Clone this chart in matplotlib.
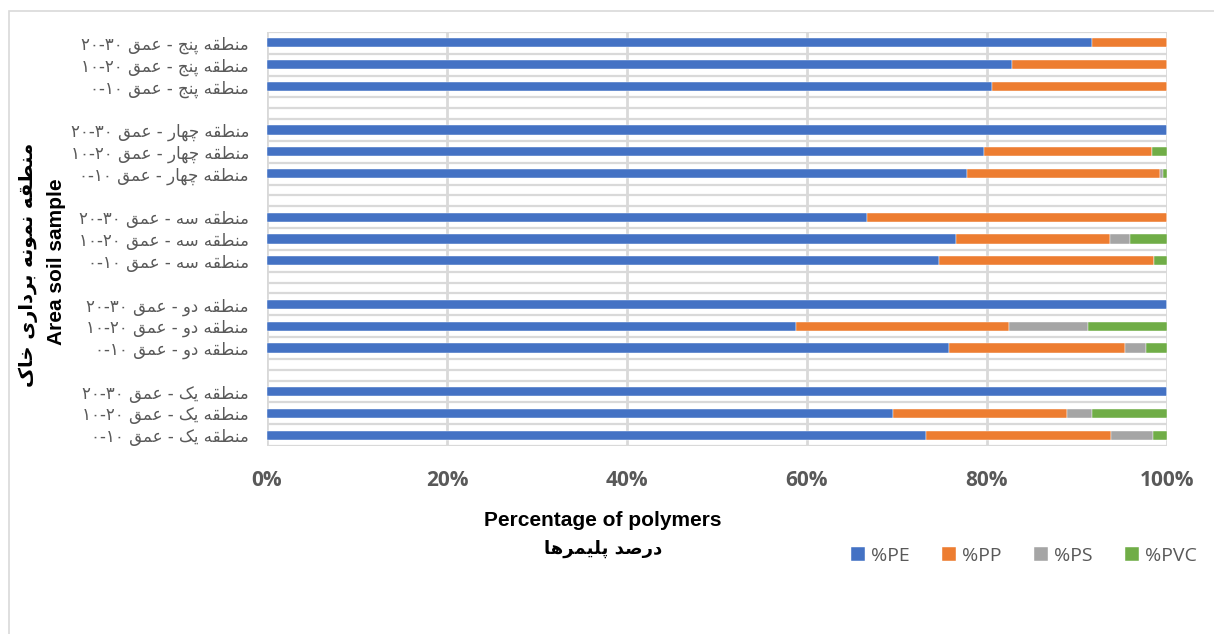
import re

import numpy as np
import matplotlib
matplotlib.use("Agg")
import matplotlib.pyplot as plt
from matplotlib.patches import Rectangle
from matplotlib.ticker import PercentFormatter

# ---- data (bottom row first) ----
zones = ["یک", "دو", "سه", "چهار", "پنج"]
depths = ["۰-۱۰", "۱۰-۲۰", "۲۰-۳۰"]
polymers = ["%PE", "%PP", "%PS", "%PVC"]

pe = [73.2, 69.5, 100, 75.8, 58.8, 100, 74.7, 76.6, 66.7, 77.8, 79.7, 100, 80.5, 82.8, 91.7]
pp = [20.6, 19.4, 0, 19.5, 23.6, 0, 23.9, 17.1, 33.3, 21.4, 18.6, 0, 19.5, 17.2, 8.3]
ps = [4.6, 2.8, 0, 2.4, 8.8, 0, 0, 2.2, 0, 0.3, 0, 0, 0, 0, 0]
pvc = [1.6, 8.3, 0, 2.3, 8.8, 0, 1.4, 4.1, 0, 0.5, 1.7, 0, 0, 0, 0]

colors = ["#4472C4", "#ED7D31", "#A5A5A5", "#70AD47"]
GRID = "#D9D9D9"
TXT = "#595959"

# contextual forms: isolated, final, initial, medial (right-joining letters have two)
FORMS = {
    "\u0627": ("\uFE8D", "\uFE8E"),
    "\u062F": ("\uFEA9", "\uFEAA"),
    "\u0631": ("\uFEAD", "\uFEAE"),
    "\u0648": ("\uFEED", "\uFEEE"),
    "\u0628": ("\uFE8F", "\uFE90", "\uFE91", "\uFE92"),
    "\u067E": ("\uFB56", "\uFB57", "\uFB58", "\uFB59"),
    "\u062C": ("\uFE9D", "\uFE9E", "\uFE9F", "\uFEA0"),
    "\u0686": ("\uFB7A", "\uFB7B", "\uFB7C", "\uFB7D"),
    "\u062E": ("\uFEA5", "\uFEA6", "\uFEA7", "\uFEA8"),
    "\u0633": ("\uFEB1", "\uFEB2", "\uFEB3", "\uFEB4"),
    "\u0635": ("\uFEB9", "\uFEBA", "\uFEBB", "\uFEBC"),
    "\u0637": ("\uFEC1", "\uFEC2", "\uFEC3", "\uFEC4"),
    "\u0639": ("\uFEC9", "\uFECA", "\uFECB", "\uFECC"),
    "\u0642": ("\uFED5", "\uFED6", "\uFED7", "\uFED8"),
    "\u06A9": ("\uFB8E", "\uFB8F", "\uFB90", "\uFB91"),
    "\u0644": ("\uFEDD", "\uFEDE", "\uFEDF", "\uFEE0"),
    "\u0645": ("\uFEE1", "\uFEE2", "\uFEE3", "\uFEE4"),
    "\u0646": ("\uFEE5", "\uFEE6", "\uFEE7", "\uFEE8"),
    "\u0647": ("\uFEE9", "\uFEEA", "\uFEEB", "\uFEEC"),
    "\u06CC": ("\uFBFC", "\uFBFD", "\uFBFE", "\uFBFF"),
}
DIGITS = r"[0-9\u06F0-\u06F9][0-9\u06F0-\u06F9\-]*[0-9\u06F0-\u06F9]|[0-9\u06F0-\u06F9]"


def shape_fa(text: str) -> str:
    out = []
    for i, ch in enumerate(text):
        forms = FORMS.get(ch)
        if forms is None:
            out.append(ch)
            continue
        prev = text[i - 1] if i > 0 else ""
        nxt = text[i + 1] if i + 1 < len(text) else ""
        join_prev = prev in FORMS and len(FORMS[prev]) == 4
        join_next = len(forms) == 4 and nxt in FORMS
        if join_prev and join_next:
            out.append(forms[3])
        elif join_prev:
            out.append(forms[1])
        elif join_next:
            out.append(forms[2])
        else:
            out.append(forms[0])
    vis = "".join(out)[::-1]
    return re.sub(DIGITS, lambda m: m.group(0)[::-1], vis)


# row layout: 3 depths per zone, one empty row between zones
ypos, labels, blanks = [], [], []
row = 0
for k, z in enumerate(zones):
    for d in depths:
        ypos.append(row)
        labels.append(shape_fa(f"منطقه {z} - عمق {d}"))
        row += 1
    if k < len(zones) - 1:
        blanks.append(row)
        row += 1
n_rows = row

fig = plt.figure(figsize=(12.14, 6.34), dpi=100)
ax = fig.add_axes([267 / 1214, 1 - 446 / 634, 900 / 1214, 414 / 634])

left = np.zeros(len(pe))
for vals, name, c in zip([pe, pp, ps, pvc], polymers, colors):
    vals = np.array(vals, dtype=float)
    ax.barh(ypos, vals, left=left, height=0.42, color=c, label=name,
            edgecolor="white", linewidth=0.3, zorder=3)
    left += vals

ax.set_xlim(0, 100)
ax.set_ylim(-0.5, n_rows - 0.5)
ax.set_xticks(np.arange(0, 101, 20))
ax.xaxis.set_major_formatter(PercentFormatter(xmax=100, decimals=0))
ax.set_yticks(ypos)
ax.set_yticklabels(labels, family=["DejaVu Sans"], fontsize=12, color=TXT)
ax.set_yticks(list(np.arange(-0.5, n_rows, 1.0)) + blanks, minor=True)
ax.tick_params(axis="y", which="both", length=0, pad=13)
ax.tick_params(axis="x", length=0, pad=17)
for t in ax.get_xticklabels():
    t.set_family(["Open Sans", "DejaVu Sans"])
    t.set_fontweight("bold")
    t.set_fontsize(15)
    t.set_color(TXT)

ax.grid(which="minor", axis="y", color=GRID, linewidth=1.6, zorder=0)
ax.grid(which="major", axis="x", color=GRID, linewidth=2, zorder=0)
for s in ax.spines.values():
    s.set_visible(False)

# outer chart border (only top and left visible in the crop)
fig.add_artist(Rectangle((9 / 1214, -0.2), 1.2, 0.2 + 1 - 11 / 634, transform=fig.transFigure,
                         fill=False, edgecolor=GRID, linewidth=1.2))

# axis titles
fig.text(28 / 1214, 1 - 265 / 634, shape_fa("منطقه نمونه برداری خاک"), rotation=90,
         ha="center", va="center", fontsize=14, fontweight="bold", family=["DejaVu Sans"])
fig.text(57 / 1214, 1 - 262 / 634, "Area soil sample", rotation=90,
         ha="center", va="center", fontsize=15, fontweight="bold", family=["Liberation Sans"])
fig.text(603 / 1214, 1 - 520 / 634, "Percentage of polymers",
         ha="center", va="center", fontsize=15, fontweight="bold", family=["Liberation Sans"])
fig.text(603 / 1214, 1 - 549 / 634, shape_fa("درصد پلیمرها"),
         ha="center", va="center", fontsize=13, fontweight="bold", family=["DejaVu Sans"])

fig.legend(loc="center", bbox_to_anchor=(1024 / 1214, 1 - 556 / 634), ncol=4, frameon=False,
           handlelength=0.7, handleheight=0.7, handletextpad=0.3, columnspacing=1.7,
           prop={"family": ["Open Sans", "DejaVu Sans"], "size": 14}, labelcolor=TXT)

fig.savefig("out.png", dpi=100, facecolor="white")
